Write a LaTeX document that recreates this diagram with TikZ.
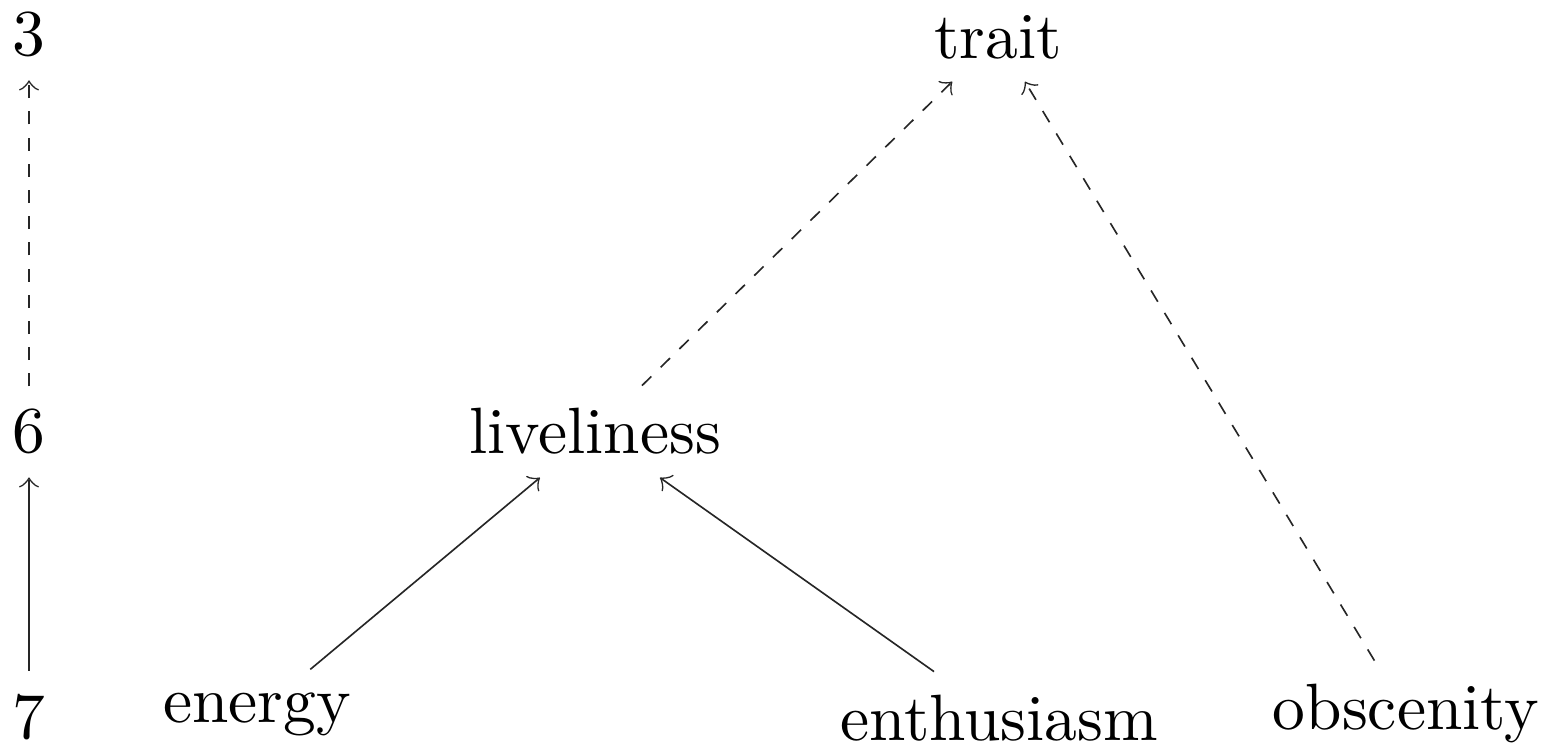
\documentclass[tikz,border=0pt]{standalone}
\begin{document}
\begin{tikzpicture}[x=0.15267pt,y=-0.15267pt,
  lbl/.style={anchor=base,inner sep=3.5pt,outer sep=0pt},
  conn/.style={->,line width=0.25pt,draw=black!85},
  dconn/.style={conn,dash pattern=on 2pt off 2pt}]
\useasboundingbox (0,0) rectangle (1551,745);
\node[lbl] (l3) at (29,56) {3};
\node[lbl] (l6) at (29,453) {6};
\node[lbl] (l7) at (29,738) {7};
\node[lbl] (trait) at (998,58) {trait};
\node[lbl] (live) at (595,454) {liveliness};
\node[lbl] (energy) at (257,722) {energy};
\node[lbl] (enth) at (999,740) {enthusiasm};
\node[lbl] (obsc) at (1406,729) {obscenity};
\draw[conn] (l7) -- (l6);
\draw[dconn] (l6) -- (l3);
\draw[conn] (energy) -- (live);
\draw[conn] (enth) -- (live);
\draw[dconn] (live) -- (trait);
\draw[dconn] (obsc) -- (trait);
\end{tikzpicture}
\end{document}
